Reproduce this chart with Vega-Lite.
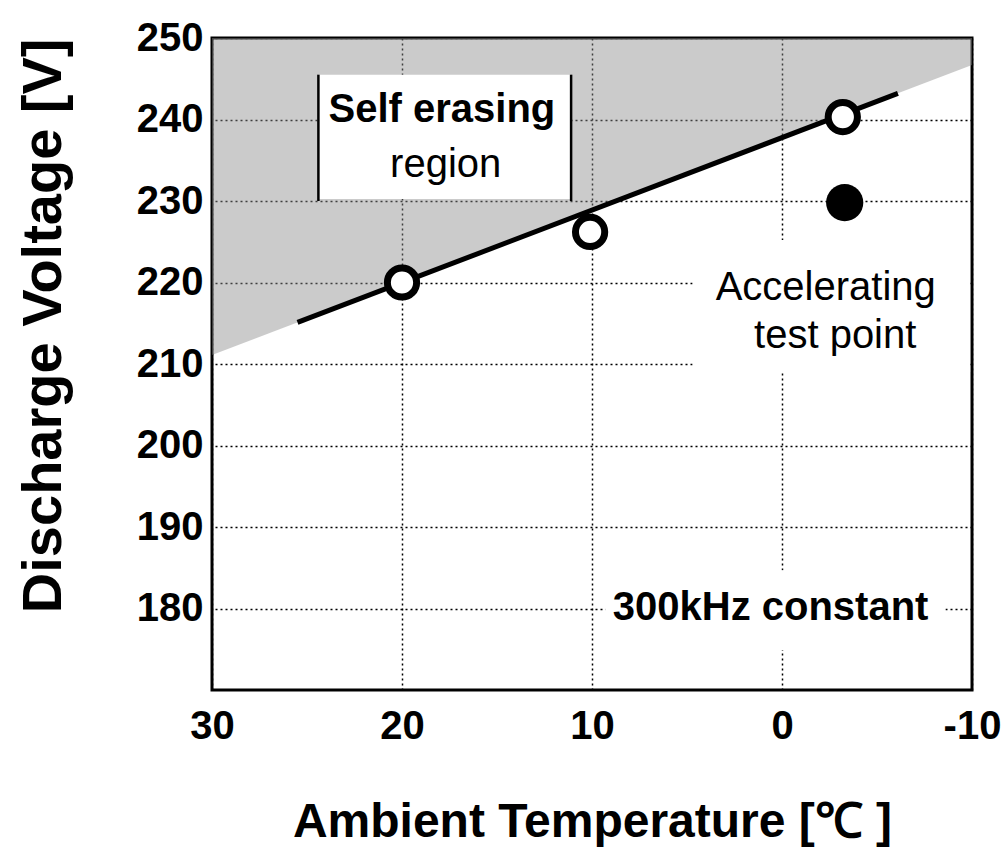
{
  "$schema": "https://vega.github.io/schema/vega-lite/v6.json",
  "width": 760,
  "height": 652,
  "autosize": {"type": "none"},
  "padding": {"left": 212, "top": 38, "right": 34, "bottom": 166},
  "background": "white",
  "config": {
    "view": {"stroke": "black", "strokeWidth": 3},
    "font": "Liberation Sans"
  },
  "encoding": {
    "x": {
      "field": "t",
      "type": "quantitative",
      "scale": {"domain": [-10, 30], "reverse": true, "nice": false, "zero": false},
      "axis": {
        "values": [30, 20, 10, 0, -10],
        "labelExpr": "'' + datum.value",
        "grid": true,
        "gridDash": [2, 3],
        "gridColor": "black",
        "gridWidth": 1.5,
        "gridOpacity": 1,
        "ticks": false,
        "domain": false,
        "labelFontSize": 40,
        "labelFontWeight": "bold",
        "labelColor": "black",
        "labelPadding": 16,
        "labelFlush": false,
        "title": "Ambient Temperature [℃ ]",
        "titleFontSize": 48,
        "titleFontWeight": "bold",
        "titleColor": "black",
        "titlePadding": 52
      }
    },
    "y": {
      "field": "v",
      "type": "quantitative",
      "scale": {"domain": [170, 250], "nice": false, "zero": false},
      "axis": {
        "values": [180, 190, 200, 210, 220, 230, 240, 250],
        "grid": true,
        "gridDash": [2, 3],
        "gridColor": "black",
        "gridWidth": 1.5,
        "gridOpacity": 1,
        "ticks": false,
        "domain": false,
        "labelFontSize": 40,
        "labelFontWeight": "bold",
        "labelColor": "black",
        "labelPadding": 9,
        "labelFlush": false,
        "title": "Discharge Voltage [V]",
        "titleFontSize": 56,
        "titleFontWeight": "bold",
        "titleColor": "black",
        "titleAnchor": "end",
        "titlePadding": 64
      }
    }
  },
  "layer": [
    {
      "data": {"values": [{"t": 30, "v": 211.1}, {"t": -10, "v": 246.7}]},
      "mark": {"type": "area", "color": "#8c8c8c", "opacity": 0.45},
      "encoding": {"y2": {"datum": 250}}
    },
    {
      "data": {"values": [
        {"t": 24.4, "t2": 11.1, "v": 245.5, "v2": 230.25},
        {"t": 4.7, "t2": -9.9, "v": 225.2, "v2": 209},
        {"t": 9.3, "t2": -8.6, "v": 184.7, "v2": 174.9}
      ]},
      "mark": {"type": "rect", "color": "white", "opacity": 1},
      "encoding": {"x2": {"field": "t2"}, "y2": {"field": "v2"}}
    },
    {
      "data": {"values": [
        {"t": 24.4, "v": 245.5, "v2": 230},
        {"t": 11.1, "v": 245.5, "v2": 230}
      ]},
      "mark": {"type": "rule", "color": "black", "strokeWidth": 2.5},
      "encoding": {"y2": {"field": "v2"}}
    },
    {
      "data": {"values": [{"t": 25.5, "v": 215.1}, {"t": -6.1, "v": 243.2}]},
      "mark": {"type": "line", "color": "black", "strokeWidth": 5},
      "encoding": {}
    },
    {
      "data": {"values": [{"t": 20, "v": 220}, {"t": 10.1, "v": 226.2}, {"t": -3.2, "v": 240.3}]},
      "mark": {"type": "point", "shape": "circle", "filled": true, "fill": "white", "stroke": "black", "strokeWidth": 7, "size": 855, "opacity": 1}
    },
    {
      "data": {"values": [{"t": -3.3, "v": 229.8}]},
      "mark": {"type": "point", "shape": "circle", "filled": true, "fill": "black", "size": 1385, "opacity": 1}
    },
    {
      "data": {"values": [
        {"label": "Self erasing", "t": 17.9, "v": 239.7},
        {"label": "300kHz constant", "t": 0.6, "v": 178.6}
      ]},
      "mark": {"type": "text", "fontSize": 40, "fontWeight": "bold", "align": "center", "baseline": "alphabetic", "color": "black"},
      "encoding": {"text": {"field": "label"}}
    },
    {
      "data": {"values": [
        {"label": "region", "t": 17.7, "v": 232.9},
        {"label": "Accelerating", "t": -2.3, "v": 217.9},
        {"label": "test point", "t": -2.8, "v": 212}
      ]},
      "mark": {"type": "text", "fontSize": 40, "align": "center", "baseline": "alphabetic", "color": "black"},
      "encoding": {"text": {"field": "label"}}
    }
  ]
}
